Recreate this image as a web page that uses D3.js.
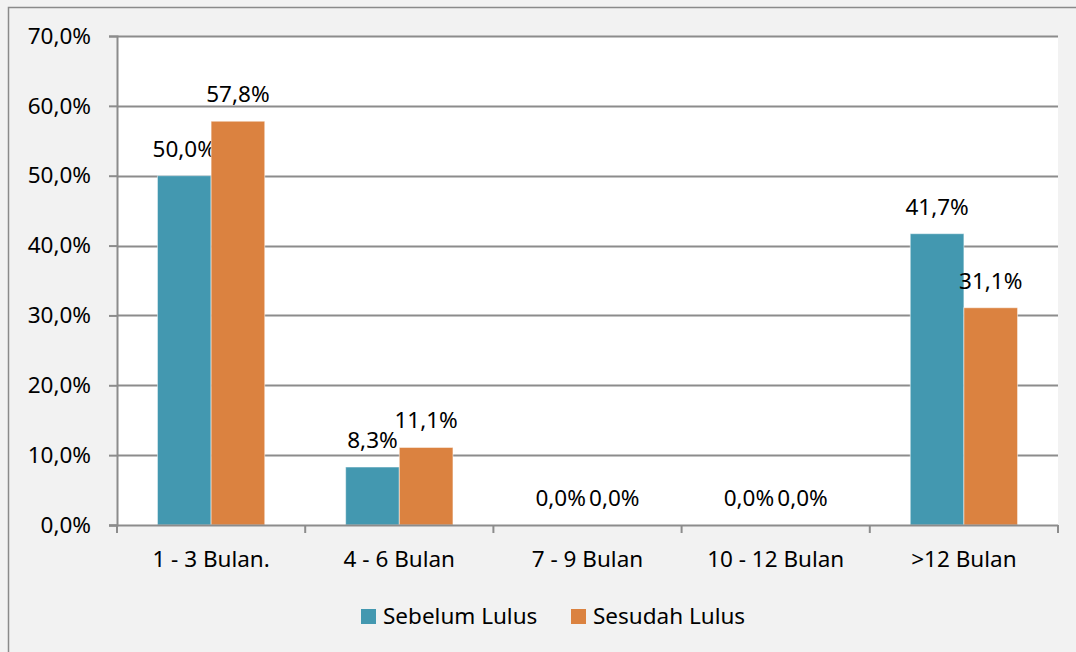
<!DOCTYPE html>
<html>
<head>
<meta charset="utf-8">
<script src="https://cdn.jsdelivr.net/npm/d3@7"></script>
<style>
  html, body { margin: 0; padding: 0; background: #f2f2f2; }
  svg { display: block; font-family: "Noto Sans", "Open Sans", sans-serif; }
</style>
</head>
<body>
<div id="chart"></div>
<script>
// Lama mendapat pekerjaan: sebelum vs sesudah lulus
const categories = ['1 - 3 Bulan.', '4 - 6 Bulan', '7 - 9 Bulan', '10 - 12 Bulan', '>12 Bulan'];
const seriesNames = ['Sebelum Lulus', 'Sesudah Lulus'];
const sebelumLulus = [50.0, 8.3, 0.0, 0.0, 41.7];
const sesudahLulus = [57.8, 11.1, 0.0, 0.0, 31.1];
const yTicks = [0, 10, 20, 30, 40, 50, 60, 70];
const colors = ['#4398b0', '#db8240'];

function drawChart() {
  const width = 1076;
  const height = 652;
  const plot = { left: 117, right: 1058, top: 36, bottom: 525 };
  const fontSize = 22.5;
  const fmt = (v) => v.toFixed(1).replace('.', ',') + '%';

  const svg = d3
    .select('#chart')
    .append('svg')
    .attr('width', width)
    .attr('height', height);

  // chart area background + border
  svg.append('rect')
    .attr('x', 8.5).attr('y', 7.5)
    .attr('width', width).attr('height', height)
    .attr('fill', '#f2f2f2')
    .attr('stroke', '#8a8a8a')
    .attr('stroke-width', 1.5);

  svg.append('rect')
    .attr('x', plot.left).attr('y', plot.top)
    .attr('width', plot.right - plot.left)
    .attr('height', plot.bottom - plot.top)
    .attr('fill', '#ffffff');

  const y = d3.scaleLinear().domain([0, 70]).range([plot.bottom, plot.top]);
  const x0 = d3.scaleBand().domain(categories).range([plot.left, plot.right]).padding(0);
  const x1 = d3.scaleBand().domain(seriesNames).range([0, x0.bandwidth()])
    .paddingInner(0).paddingOuter(0.754);

  // gridlines
  svg.append('g')
    .selectAll('line')
    .data(yTicks.slice(1))
    .enter()
    .append('line')
    .attr('x1', plot.left).attr('x2', plot.right)
    .attr('y1', (d) => Math.round(y(d)) + 0.5)
    .attr('y2', (d) => Math.round(y(d)) + 0.5)
    .attr('stroke', '#8c8c8c')
    .attr('stroke-width', 2);

  // y axis
  const yAxis = svg.append('g')
    .attr('transform', `translate(${plot.left},0)`)
    .call(d3.axisLeft(y).tickValues(yTicks).tickSize(8).tickPadding(18).tickFormat(fmt));
  yAxis.select('.domain').attr('stroke', '#8c8c8c').attr('stroke-width', 2);
  yAxis.selectAll('.tick line').attr('stroke', '#8c8c8c').attr('stroke-width', 2);
  yAxis.selectAll('.tick text')
    .attr('font-size', fontSize)
    .attr('font-family', '"Noto Sans", sans-serif')
    .attr('fill', '#000');

  // bars
  const series = [sebelumLulus, sesudahLulus];
  const groups = svg.append('g')
    .selectAll('g')
    .data(seriesNames)
    .enter()
    .append('g')
    .attr('fill', (_d, i) => colors[i]);

  groups.selectAll('rect')
    .data((_d, i) => series[i].map((v, j) => ({ s: seriesNames[i], c: categories[j], v })))
    .enter()
    .append('rect')
    .attr('x', (d) => x0(d.c) + x1(d.s))
    .attr('y', (d) => y(d.v))
    .attr('width', x1.bandwidth())
    .attr('height', (d) => y(0) - y(d.v))
    .attr('stroke', (d) => (d.v > 0 ? '#ffffff' : 'none'))
    .attr('stroke-opacity', 0.5)
    .attr('stroke-width', 1);

  // data labels
  groups.selectAll('text')
    .data((_d, i) => series[i].map((v, j) => ({ s: seriesNames[i], c: categories[j], v })))
    .enter()
    .append('text')
    .attr('x', (d) => x0(d.c) + x1(d.s) + x1.bandwidth() / 2)
    .attr('y', (d) => y(d.v) - 19)
    .attr('text-anchor', 'middle')
    .attr('font-size', fontSize)
    .attr('fill', '#000')
    .text((d) => fmt(d.v));

  // x axis
  const xAxis = svg.append('g').attr('transform', `translate(0,${plot.bottom})`);
  xAxis.append('line')
    .attr('x1', plot.left - 8).attr('x2', plot.right)
    .attr('y1', 0.5).attr('y2', 0.5)
    .attr('stroke', '#8c8c8c').attr('stroke-width', 2);
  xAxis.selectAll('line.tick')
    .data(categories.map((c) => x0(c)).concat([plot.right]))
    .enter()
    .append('line')
    .attr('class', 'tick')
    .attr('x1', (d) => d).attr('x2', (d) => d)
    .attr('y1', 0).attr('y2', 8)
    .attr('stroke', '#8c8c8c').attr('stroke-width', 2);
  xAxis.selectAll('text')
    .data(categories)
    .enter()
    .append('text')
    .attr('x', (d) => x0(d) + x0.bandwidth() / 2)
    .attr('y', 42)
    .attr('text-anchor', 'middle')
    .attr('font-size', fontSize)
    .attr('fill', '#000')
    .text((d) => d);

  // legend
  const legendX = [361, 571];
  const legend = svg.append('g')
    .selectAll('g')
    .data(seriesNames)
    .enter()
    .append('g')
    .attr('transform', (_d, i) => `translate(${legendX[i]},609)`);
  legend.append('rect')
    .attr('width', 15).attr('height', 15)
    .attr('fill', (_d, i) => colors[i]);
  legend.append('text')
    .attr('x', 22).attr('y', 14.5)
    .attr('font-size', fontSize)
    .attr('fill', '#000')
    .text((d) => d);
}

document.addEventListener('DOMContentLoaded', drawChart);
</script>
</body>
</html>
